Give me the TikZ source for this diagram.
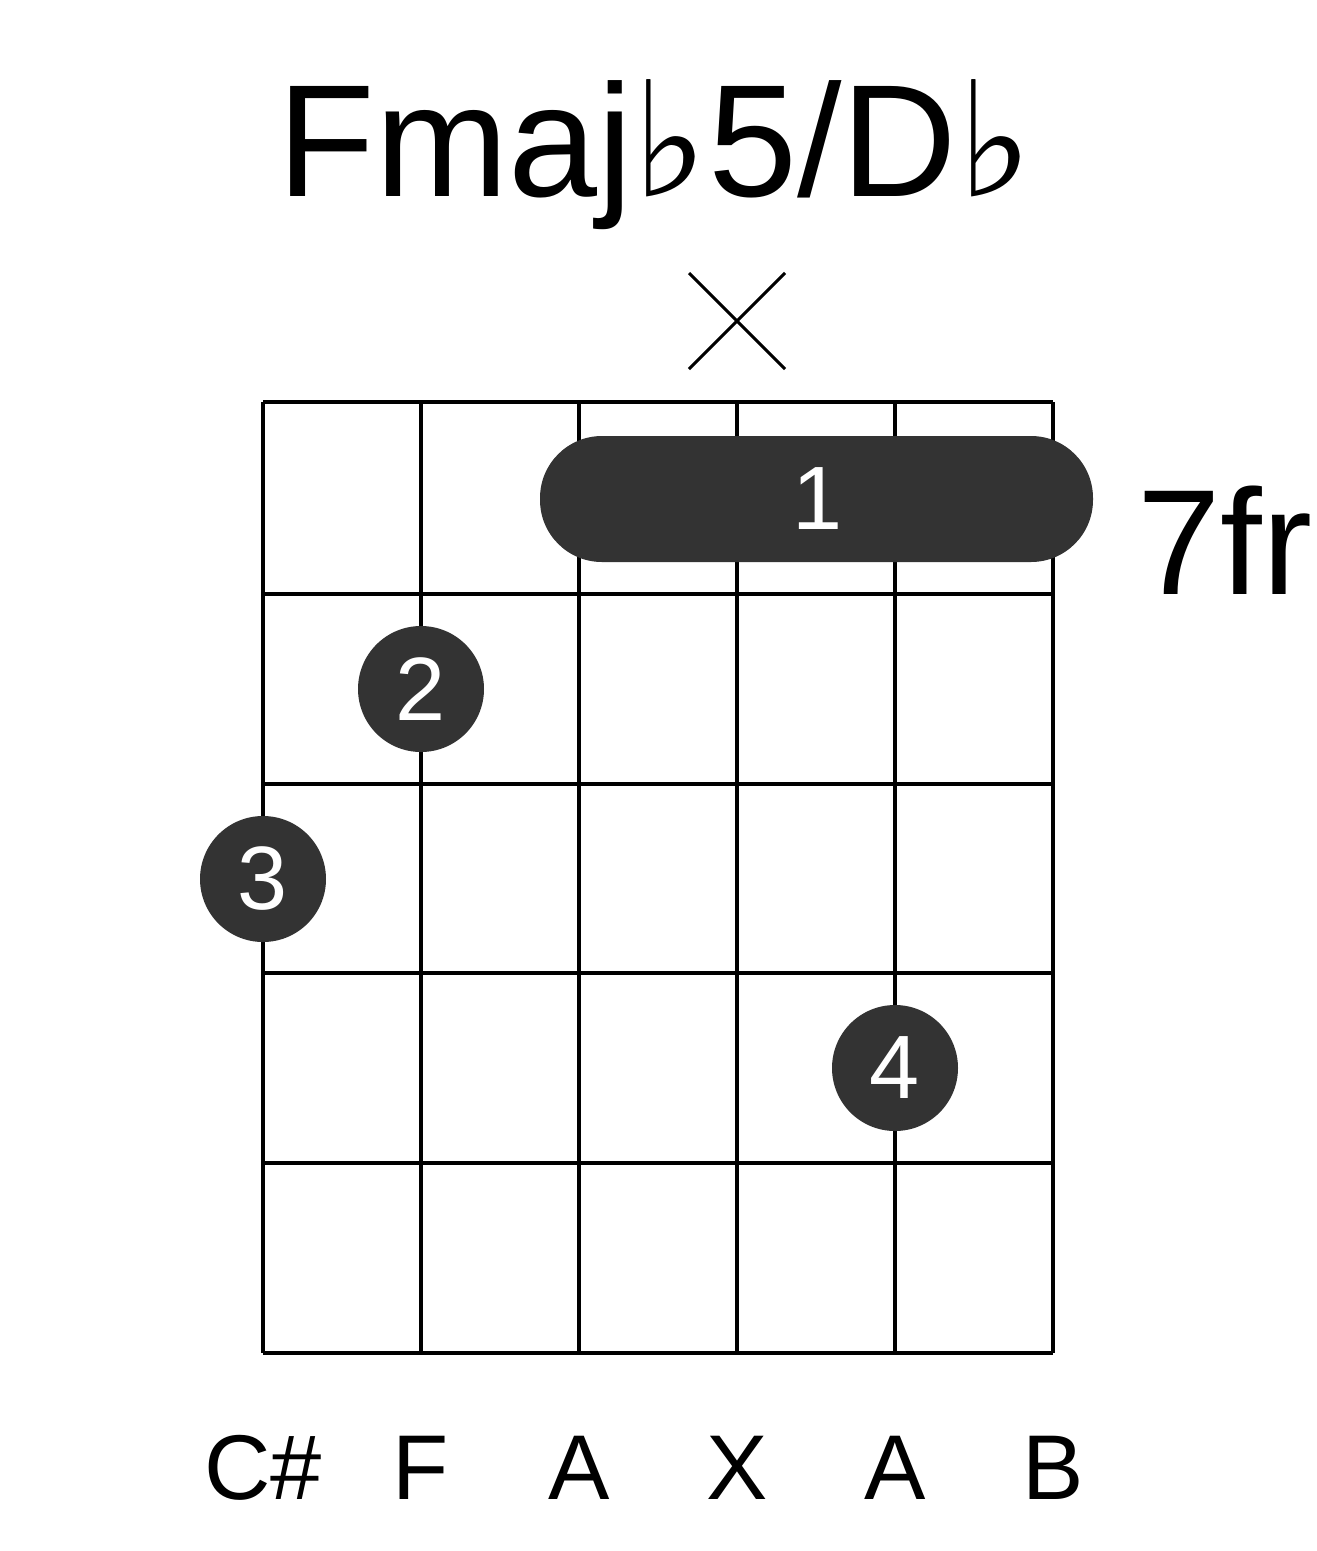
\documentclass[tikz,border=0pt]{standalone}
\usepackage{fontspec}
\setmainfont{Liberation Sans}
\newfontfamily\symfont{DejaVu Sans}
\begin{document}
\begin{tikzpicture}[x=1pt,y=-1pt,
  gridline/.style={line width=4pt,black},
  dot/.style={circle,fill=black!80,minimum size=126pt,inner sep=0pt,text=white,font=\fontsize{90}{90}\selectfont},
  lbl/.style={font=\fontsize{92}{92}\selectfont}]
\useasboundingbox (0,0) rectangle (1317,1551);
\foreach \x in {263,421,579,737,895,1053} \draw[gridline] (\x,402) -- (\x,1353);
\foreach \y in {402,594,784,973,1163,1353} \draw[gridline] (263,\y) -- (1053,\y);
\fill[black!80,rounded corners=62pt] (540,436) rectangle (1093,562);
\node[text=white,font=\fontsize{90}{90}\selectfont] (b1) at (818,499) {1};
\node[dot] (d2) at (421,689) {2};
\node[dot] (d3) at (263,879) {3};
\node[dot] (d4) at (895,1068) {4};
\draw[line width=3pt] (689,273) -- (785,369) (689,369) -- (785,273);
\node[font=\fontsize{160}{160}\selectfont] (title) at (655,155) {Fmaj{\symfont ♭}5/D{\symfont ♭}};
\node[font=\fontsize{150}{150}\selectfont] (fr) at (1225,540) {7fr};
\foreach \x/\t in {263/C\#,421/F,579/A,737/X,895/A,1053/B}
  \node[lbl] at (\x,1468) {\t};
\end{tikzpicture}
\end{document}
